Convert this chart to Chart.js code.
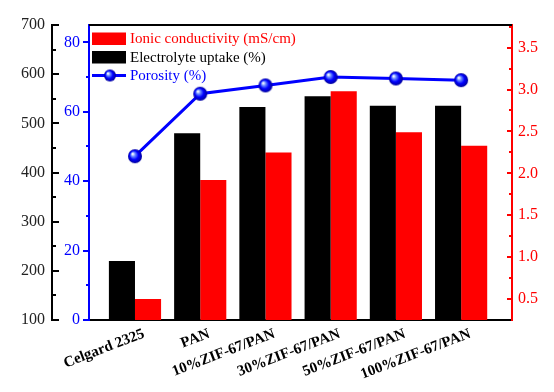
<!DOCTYPE html>
<html>
<head>
<meta charset="utf-8">
<script src="https://cdn.jsdelivr.net/npm/chart.js@4.4.1/dist/chart.umd.min.js"></script>
<style>
html,body{margin:0;padding:0;background:#fff;}
#wrap{width:554px;height:392px;}
</style>
</head>
<body>
<div id="wrap"><canvas id="c" width="554" height="392"></canvas></div>
<script>
const categories = ['Celgard 2325', 'PAN', '10%ZIF-67/PAN', '30%ZIF-67/PAN', '50%ZIF-67/PAN', '100%ZIF-67/PAN'];
const electrolyteUptake = [220, 480, 533, 555, 536, 536];
const ionicConductivity = [0.50, 1.92, 2.25, 2.98, 2.49, 2.33];
const porosity = [47.2, 65.2, 67.6, 70.0, 69.6, 69.1];
const uptakeTicks = [100, 200, 300, 400, 500, 600, 700];
const porosityTicks = [0, 20, 40, 60, 80];
const conductivityTicks = [0.5, 1.0, 1.5, 2.0, 2.5, 3.0, 3.5];

const SERIF = '"Liberation Serif", "Times New Roman", serif';
const BLUE = '#0000ff', RED = '#ff0000', BLACK = '#000000';

function sphere(r) {
  const c = document.createElement('canvas');
  const s = r * 2 + 2;
  c.width = s; c.height = s;
  const g = c.getContext('2d');
  const cx = s / 2, cy = s / 2;
  const grad = g.createRadialGradient(cx - r * 0.35, cy - r * 0.35, 0.5, cx, cy, r);
  grad.addColorStop(0, '#ffffff');
  grad.addColorStop(0.25, '#6a8cff');
  grad.addColorStop(0.6, '#0000ff');
  grad.addColorStop(1, '#00009a');
  g.fillStyle = grad;
  g.beginPath(); g.arc(cx, cy, r, 0, Math.PI * 2); g.fill();
  return c;
}
const ball = sphere(7);
const legendBall = sphere(6);

const toXY = arr => arr.map((v, i) => ({x: i, y: v}));

const tickPlugin = {
  id: 'tickPlugin',
  afterDraw(chart) {
    const ctx = chart.ctx;
    const {left, right, top} = chart.chartArea;
    const sL = chart.scales.yL, sP = chart.scales.yP, sR = chart.scales.yR;
    ctx.save();
    ctx.lineWidth = 2;
    ctx.strokeStyle = BLACK;
    ctx.beginPath(); ctx.moveTo(left, top); ctx.lineTo(right, top); ctx.stroke();
    const xL = sL.right;
    for (let v = sL.min; v <= sL.max + 1e-9; v += 50) {
      const y = Math.round(sL.getPixelForValue(v));
      const len = (v % 100 === 0) ? 7 : 4;
      ctx.beginPath(); ctx.moveTo(xL - 1, y); ctx.lineTo(xL + len, y); ctx.stroke();
    }
    ctx.strokeStyle = BLUE;
    const xP = sP.right;
    for (let v = 0; v <= sP.max + 1e-9; v += 10) {
      const y = Math.round(sP.getPixelForValue(v));
      const len = (v % 20 === 0) ? 6 : 3;
      ctx.beginPath(); ctx.moveTo(xP + 1, y); ctx.lineTo(xP - len, y); ctx.stroke();
    }
    ctx.strokeStyle = RED;
    const xR = sR.left;
    for (let k = 2; k * 0.25 <= sR.max + 1e-9; k++) {
      const v = k * 0.25;
      const y = Math.round(sR.getPixelForValue(v));
      const len = (k % 2 === 0) ? 5 : 3;
      ctx.beginPath(); ctx.moveTo(xR + 1, y); ctx.lineTo(xR - len, y); ctx.stroke();
    }
    ctx.restore();
  }
};

const legendPlugin = {
  id: 'innerLegend',
  afterDraw(chart) {
    const ctx = chart.ctx;
    const ds = chart.data.datasets;
    const items = [ds[1], ds[0], ds[2]];
    const x0 = 92, sw = 34, tx = 130;
    const rows = [38.5, 57, 75.5];
    ctx.save();
    ctx.font = '15px ' + SERIF;
    ctx.textBaseline = 'middle';
    ctx.textAlign = 'left';
    items.forEach((d, i) => {
      const y = rows[i];
      if (d.type === 'line') {
        ctx.strokeStyle = d.borderColor; ctx.lineWidth = 3;
        ctx.beginPath(); ctx.moveTo(x0, y); ctx.lineTo(x0 + sw, y); ctx.stroke();
        ctx.drawImage(legendBall, x0 + sw / 2 - legendBall.width / 2 + 1, y - legendBall.height / 2);
        ctx.fillStyle = d.borderColor;
      } else {
        ctx.fillStyle = d.backgroundColor;
        ctx.fillRect(x0, y - 6, sw, 12.5);
        ctx.fillStyle = d.legendText;
      }
      ctx.fillText(d.label, tx, y + 1);
    });
    ctx.restore();
  }
};

new Chart(document.getElementById('c'), {
  data: {
    datasets: [
      {
        type: 'bar', label: 'Electrolyte uptake (%)', data: toXY(electrolyteUptake),
        backgroundColor: BLACK, legendText: BLACK, yAxisID: 'yL', xAxisID: 'x',
        barPercentage: 1.0, categoryPercentage: 0.8, borderWidth: 0, order: 2
      },
      {
        type: 'bar', label: 'Ionic conductivity (mS/cm)', data: toXY(ionicConductivity),
        backgroundColor: RED, legendText: RED, yAxisID: 'yR', xAxisID: 'x',
        barPercentage: 1.0, categoryPercentage: 0.8, borderWidth: 0, order: 2
      },
      {
        type: 'line', label: 'Porosity (%)', data: toXY(porosity),
        borderColor: BLUE, borderWidth: 3, pointStyle: ball, pointRadius: 7,
        pointHoverRadius: 7, yAxisID: 'yP', xAxisID: 'x', tension: 0, order: 1
      }
    ]
  },
  options: {
    responsive: false,
    animation: false,
    events: [],
    layout: {padding: {top: 25, left: 0, right: 0, bottom: 0}},
    plugins: {legend: {display: false}, tooltip: {enabled: false}},
    scales: {
      x: {
        type: 'linear', position: 'bottom', min: -0.705, max: 5.78,
        offset: false,
        grid: {display: false, drawTicks: false},
        border: {display: true, color: BLACK, width: 2},
        afterBuildTicks: s => { s.ticks = categories.map((_, i) => ({value: i})); },
        afterFit: s => { s.height = 72; },
        ticks: {
          autoSkip: false, minRotation: 21, maxRotation: 21, padding: 5, labelOffset: 9,
          color: BLACK, font: {family: SERIF, size: 15, weight: 'bold'},
          callback: v => categories[v] ?? ''
        }
      },
      yL: {
        type: 'linear', position: 'left', weight: 2, min: 100, max: 700,
        grid: {display: false, drawTicks: false},
        border: {display: true, color: BLACK, width: 2},
        afterBuildTicks: s => { s.ticks = uptakeTicks.map(v => ({value: v})); },
        afterFit: s => { s.width = 52; },
        ticks: {padding: 7, color: '#222', font: {family: SERIF, size: 16}}
      },
      yP: {
        type: 'linear', position: 'left', weight: 1, min: 0, max: 85,
        grid: {display: false, drawTicks: false},
        border: {display: true, color: BLUE, width: 2},
        afterBuildTicks: s => { s.ticks = porosityTicks.map(v => ({value: v})); },
        afterFit: s => { s.width = 37; },
        ticks: {padding: 9, color: BLUE, font: {family: SERIF, size: 16}}
      },
      yR: {
        type: 'linear', position: 'right', min: 0.25, max: 3.77,
        grid: {display: false, drawTicks: false},
        border: {display: true, color: RED, width: 2},
        afterBuildTicks: s => { s.ticks = conductivityTicks.map(v => ({value: v})); },
        afterFit: s => { s.width = 42; },
        ticks: {padding: 6, color: RED, font: {family: SERIF, size: 16},
          callback: v => Number(v).toFixed(1)}
      }
    }
  },
  plugins: [tickPlugin, legendPlugin]
});
</script>
</body>
</html>
